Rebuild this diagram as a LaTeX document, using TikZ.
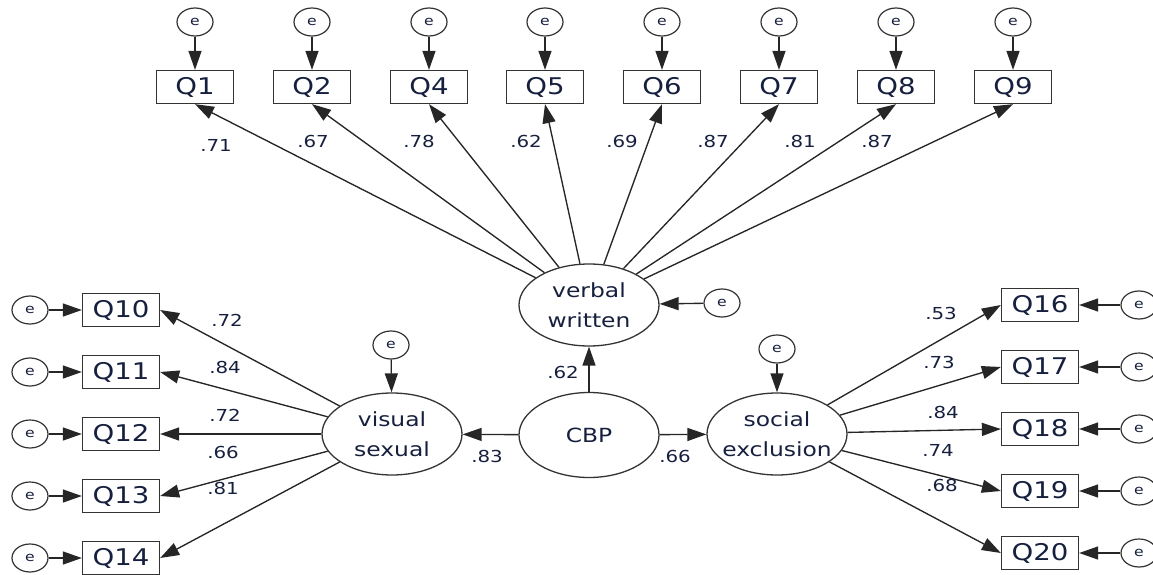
\documentclass[tikz,border=0pt]{standalone}
\usepackage{fontspec}
\setmainfont{DejaVu Sans}[FakeStretch=1.2]
\usepackage{tikz}
\usetikzlibrary{shapes.geometric,arrows.meta}
\definecolor{SemInk}{RGB}{22,32,62}
\tikzset{
  obs/.style={rectangle,draw=black!80,line width=1.3pt,minimum width=77pt,minimum height=33pt,
    inner sep=0pt,text=SemInk,font=\fontsize{23}{25}\selectfont},
  lat/.style={ellipse,draw=black!80,line width=1.3pt,minimum width=140pt,minimum height=82pt,
    inner xsep=-12pt,inner ysep=0pt,align=center,text=SemInk,font=\fontsize{19.5}{30}\selectfont},
  err/.style={ellipse,draw=black!80,line width=1.2pt,minimum width=36pt,minimum height=28pt,
    inner sep=0pt,text=SemInk,font=\fontsize{13}{14}\selectfont},
  load/.style={draw=black!85,line width=1.35pt,-{Triangle[length=19pt,width=13pt]}},
  coef/.style={text=SemInk,font=\fontsize{16.5}{18}\selectfont},
}
\begin{document}
\begin{tikzpicture}[x=1pt,y=-1pt]
\useasboundingbox (0,0) rectangle (1153,575);
% latent factors
\node[lat] (verbal) at (589,305) {verbal\\written};
\node[lat,minimum height=85pt] (cbp) at (589,435) {CBP};
\node[lat] (visual) at (392,434) {visual\\sexual};
\node[lat] (social) at (777,434) {social\\exclusion};
% top indicators
\node[obs] (q1) at (195,87) {Q1};
\node[obs] (q2) at (312,87) {Q2};
\node[obs] (q4) at (429,87) {Q4};
\node[obs] (q5) at (545,87) {Q5};
\node[obs] (q6) at (662,87) {Q6};
\node[obs] (q7) at (779,87) {Q7};
\node[obs] (q8) at (896,87) {Q8};
\node[obs] (q9) at (1013,87) {Q9};
% left indicators
\node[obs] (q10) at (121,310) {Q10};
\node[obs] (q11) at (121,372) {Q11};
\node[obs] (q12) at (121,434) {Q12};
\node[obs] (q13) at (121,496) {Q13};
\node[obs] (q14) at (121,558) {Q14};
% right indicators
\node[obs] (q16) at (1040,305) {Q16};
\node[obs] (q17) at (1040,367) {Q17};
\node[obs] (q18) at (1040,429) {Q18};
\node[obs] (q19) at (1040,491) {Q19};
\node[obs] (q20) at (1040,553) {Q20};
% error terms
\node[err] (e1) at (195,22) {e};
\node[err] (e2) at (312,22) {e};
\node[err] (e4) at (429,22) {e};
\node[err] (e5) at (545,22) {e};
\node[err] (e6) at (662,22) {e};
\node[err] (e7) at (779,22) {e};
\node[err] (e8) at (896,22) {e};
\node[err] (e9) at (1013,22) {e};
\node[err] (e10) at (30,310) {e};
\node[err] (e11) at (30,372) {e};
\node[err] (e12) at (30,434) {e};
\node[err] (e13) at (30,496) {e};
\node[err] (e14) at (30,558) {e};
\node[err] (e16) at (1139,305) {e};
\node[err] (e17) at (1139,367) {e};
\node[err] (e18) at (1139,429) {e};
\node[err] (e19) at (1139,491) {e};
\node[err] (e20) at (1139,553) {e};
\node[err] (ev) at (722,303) {e};
\node[err] (evs) at (391,345) {e};
\node[err] (ese) at (777,349) {e};
% error paths
\draw[load] (e1) -- (q1);
\draw[load] (e2) -- (q2);
\draw[load] (e4) -- (q4);
\draw[load] (e5) -- (q5);
\draw[load] (e6) -- (q6);
\draw[load] (e7) -- (q7);
\draw[load] (e8) -- (q8);
\draw[load] (e9) -- (q9);
\draw[load] (e10) -- (q10);
\draw[load] (e11) -- (q11);
\draw[load] (e12) -- (q12);
\draw[load] (e13) -- (q13);
\draw[load] (e14) -- (q14);
\draw[load] (e16) -- (q16);
\draw[load] (e17) -- (q17);
\draw[load] (e18) -- (q18);
\draw[load] (e19) -- (q19);
\draw[load] (e20) -- (q20);
\draw[load] (ev) -- (verbal);
\draw[load] (evs) -- (visual);
\draw[load] (ese) -- (social);
% structural paths
\draw[load] (cbp) -- (verbal);
\draw[load] (cbp) -- (visual);
\draw[load] (cbp) -- (social);
% loadings
\draw[load] (verbal) -- (q1.south);
\draw[load] (verbal) -- (q2.south);
\draw[load] (verbal) -- (q4.south);
\draw[load] (verbal) -- (q5.south);
\draw[load] (verbal) -- (q6.south);
\draw[load] (verbal) -- (q7.south);
\draw[load] (verbal) -- (q8.south);
\draw[load] (verbal) -- (q9.south);
\draw[load] (visual) -- (q10.east);
\draw[load] (visual) -- (q11.east);
\draw[load] (visual) -- (q12.east);
\draw[load] (visual) -- (q13.east);
\draw[load] (visual) -- (q14.east);
\draw[load] (social) -- (q16.west);
\draw[load] (social) -- (q17.west);
\draw[load] (social) -- (q18.west);
\draw[load] (social) -- (q19.west);
\draw[load] (social) -- (q20.west);
% coefficients
\node[coef] (c1) at (216,145) {.71};
\node[coef] (c2) at (313,141) {.67};
\node[coef] (c4) at (419,141) {.78};
\node[coef] (c5) at (526,141) {.62};
\node[coef] (c6) at (622,141) {.69};
\node[coef] (c7) at (713,141) {.87};
\node[coef] (c8) at (800,141) {.81};
\node[coef] (c9) at (877,141) {.87};
\node[coef] (c10) at (227,320) {.72};
\node[coef] (c11) at (225,367) {.84};
\node[coef] (c12) at (225,415) {.72};
\node[coef] (c13) at (223,452) {.66};
\node[coef] (c14) at (223,488) {.81};
\node[coef] (c16) at (941,313) {.53};
\node[coef] (c17) at (939,362) {.73};
\node[coef] (c18) at (943,412) {.84};
\node[coef] (c19) at (938,450) {.74};
\node[coef] (c20) at (942,485) {.68};
\node[coef] (cv) at (563,372) {.62};
\node[coef] (cvs) at (487,456) {.83};
\node[coef] (cse) at (675,456) {.66};
\end{tikzpicture}
\end{document}
